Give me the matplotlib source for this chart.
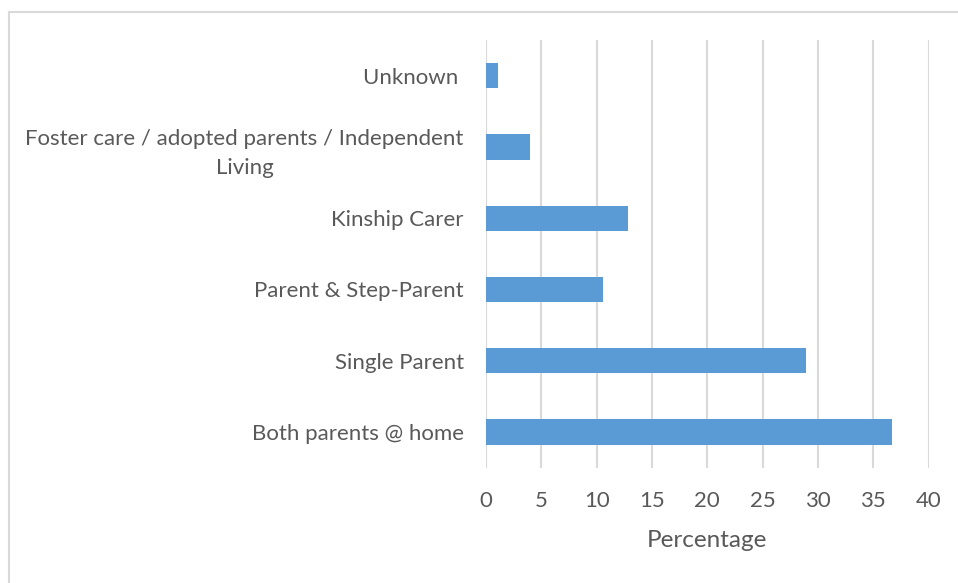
import matplotlib.pyplot as plt
from matplotlib.lines import Line2D

categories = [
    "Both parents @ home",
    "Single Parent",
    "Parent & Step-Parent",
    "Kinship Carer",
    "Foster care / adopted parents / Independent\nLiving",
    "Unknown ",
]
percentages = [36.7, 28.9, 10.6, 12.8, 4.0, 1.1]
x_ticks = [0, 5, 10, 15, 20, 25, 30, 35, 40]

BAR_COLOR = "#5b9bd5"
GRID_COLOR = "#d9d9d9"
TEXT_COLOR = "#595959"

plt.rcParams["font.family"] = ["Lato", "DejaVu Sans"]

fig = plt.figure(figsize=(9.58, 5.83), dpi=100)
ax = fig.add_axes([0.5073, 0.1978, 0.4621, 0.7336])

ax.barh(range(len(categories)), percentages, height=0.355, color=BAR_COLOR, zorder=3)

ax.set_xlim(0, 40)
ax.set_ylim(-0.5, len(categories) - 0.5)
ax.set_xticks(x_ticks)
ax.set_yticks(range(len(categories)))
ax.set_yticklabels(categories, multialignment="center", linespacing=1.55)

ax.grid(axis="x", color=GRID_COLOR, linewidth=1.5, zorder=0)
for side in ["top", "right", "bottom", "left"]:
    ax.spines[side].set_visible(False)
ax.axvline(0, color=GRID_COLOR, linewidth=1.5, zorder=1)

ax.tick_params(axis="both", length=0, labelsize=16, labelcolor=TEXT_COLOR)
ax.tick_params(axis="y", pad=16)
ax.tick_params(axis="x", pad=16.5)
ax.set_xlabel("Percentage", fontsize=17.5, color=TEXT_COLOR, labelpad=14)

# chart area frame
fig.add_artist(Line2D([9 / 958, 1], [1 - 12 / 583, 1 - 12 / 583], color=GRID_COLOR, linewidth=1.5))
fig.add_artist(Line2D([9 / 958, 9 / 958], [0, 1 - 12 / 583], color=GRID_COLOR, linewidth=1.5))

fig.savefig("out.png", dpi=100)
